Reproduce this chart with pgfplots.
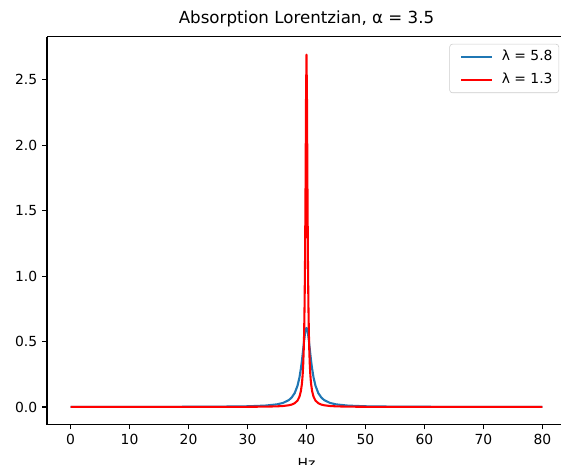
\documentclass[border=0pt]{standalone}
\usepackage{fontspec}
\setmainfont{DejaVu Sans}
\usepackage{pgfplots}
\pgfplotsset{compat=1.18}
\usetikzlibrary{calc}
\definecolor{mplblue}{HTML}{1F77B4}

\begin{document}
\begin{tikzpicture}
\begin{axis}[
    scale only axis,
    width=373.7pt, height=279.1pt,
    xmin=-4, xmax=84,
    ymin=-0.1346, ymax=2.827,
    axis x line*=bottom, axis y line*=left,
    xtick={0,10,...,80},
    ytick={0,0.5,1,1.5,2,2.5},
    yticklabel style={/pgf/number format/.cd,fixed,fixed zerofill,precision=1},
    /pgf/number format/assume math mode=true,
    tick align=outside,
    major tick length=3.5pt,
    every tick/.style={black, line width=0.8pt},
    axis line style={-, line width=0.8pt},
    tick label style={font=\fontsize{10}{12}\selectfont},
    title={Absorption Lorentzian, α = 3.5},
    title style={font=\fontsize{12}{14}\selectfont, yshift=-2pt},
    xlabel={Hz},
    xlabel style={font=\fontsize{10}{12}\selectfont, yshift=-3pt},
    legend cell align=left,
    legend style={at={(1,1)}, anchor=north east, xshift=-5pt, yshift=-5pt,
        draw=black!20, rounded corners=2pt, font=\fontsize{10}{12}\selectfont,
        inner xsep=3pt, inner ysep=3pt, row sep=4pt,
        nodes={inner sep=1.5pt, text height=7.5pt, text depth=2pt},
        /tikz/every odd column/.append style={column sep=5pt}},
    legend image code/.code={
        \node[inner sep=0pt, minimum width=4.5pt, minimum height=0pt, anchor=east] at (0pt,0pt) {};
        \draw[#1] (0pt,0pt) -- (22pt,0pt);},
]
\addplot[mplblue, line width=1.5pt, line join=round] coordinates {
(0,0.00032)(10,0.00057)(20,0.00128)(25,0.00228)(30,0.0051)(33,0.01031)(35,0.0199)
(36,0.0305)(37,0.0522)(37.5,0.0724)(38,0.1060)(38.48,0.1626)(38.8,0.2243)(39.04,0.2899)
(39.2,0.3446)(39.28,0.3752)(39.36,0.4075)(39.44,0.4411)(39.52,0.4750)(39.6,0.5080)
(39.68,0.5387)(39.76,0.5652)(39.84,0.5858)(39.92,0.5989)(40,0.6034)
(40.08,0.5989)(40.16,0.5858)(40.24,0.5652)(40.32,0.5387)(40.4,0.5080)(40.48,0.4750)
(40.56,0.4411)(40.64,0.4075)(40.72,0.3752)(40.8,0.3446)(40.96,0.2899)(41.2,0.2243)
(41.52,0.1626)(42,0.1060)(42.5,0.0724)(43,0.0522)(44,0.0305)(45,0.0199)
(47,0.01031)(50,0.0051)(55,0.00228)(60,0.00128)(70,0.00057)(80,0.00032)
};
\addlegendentry{λ = 5.8}
\addplot[red, line width=1.5pt, line join=round] coordinates {
(0,0.000072)(10,0.000128)(20,0.000288)(25,0.000512)(30,0.00115)(33,0.00235)(35,0.0046)
(36,0.00718)(37,0.01275)(37.5,0.0183)(38,0.0285)(38.48,0.0490)(38.8,0.0777)(39.04,0.1195)
(39.2,0.1688)(39.28,0.2054)(39.36,0.2548)(39.44,0.3234)(39.52,0.4218)(39.6,0.5683)
(39.68,0.7937)(39.76,1.1478)(39.84,1.6848)(39.92,2.3420)(40,2.6923)
(40.08,2.3420)(40.16,1.6848)(40.24,1.1478)(40.32,0.7937)(40.4,0.5683)(40.48,0.4218)
(40.56,0.3234)(40.64,0.2548)(40.72,0.2054)(40.8,0.1688)(40.96,0.1195)(41.2,0.0777)
(41.52,0.0490)(42,0.0285)(42.5,0.0183)(43,0.01275)(44,0.00718)(45,0.0046)
(47,0.00235)(50,0.00115)(55,0.000512)(60,0.000288)(70,0.000128)(80,0.000072)
};
\addlegendentry{λ = 1.3}
\end{axis}
% top spine; the right one lies beyond the cropped edge in the reference
\draw[line width=0.8pt] (current axis.north west) -- (current axis.north east);
\pgfresetboundingbox
\useasboundingbox ($(current axis.south west)+(-33.84pt,-29.1pt)$) rectangle ($(current axis.south west)+(370.1pt,305.7pt)$);
\end{tikzpicture}
\end{document}
